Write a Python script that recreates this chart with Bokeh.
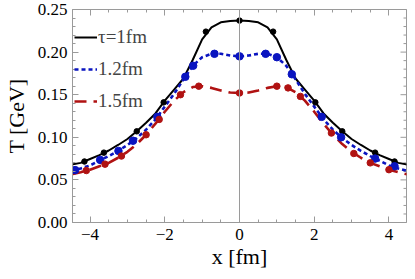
import math
from bokeh.plotting import figure
from bokeh.models import (Range1d, LinearAxis, FixedTicker, Span, Legend, LegendItem,
                          NumeralTickFormatter, CustomLabelingPolicy)
from bokeh.embed import file_html
from bokeh.resources import INLINE

# ---- data ----
x_grid = [-4.5, -4.25, -4.0, -3.75, -3.5, -3.25, -3.0, -2.75, -2.5, -2.25, -2.0, -1.75,
          -1.5, -1.25, -1.0, -0.75, -0.5, -0.25, 0.0, 0.25, 0.5, 0.75, 1.0, 1.25, 1.5,
          1.75, 2.0, 2.25, 2.5, 2.75, 3.0, 3.25, 3.5, 3.75, 4.0, 4.25, 4.5]

T_tau10 = [0.068, 0.070, 0.0745, 0.079, 0.0845, 0.091, 0.098, 0.107, 0.117, 0.128, 0.143,
           0.156, 0.169, 0.191, 0.215, 0.229, 0.235, 0.2365, 0.237, 0.2365, 0.235, 0.229,
           0.215, 0.191, 0.169, 0.156, 0.143, 0.128, 0.117, 0.107, 0.098, 0.091, 0.0845,
           0.079, 0.0745, 0.070, 0.068]

T_tau12 = [0.0605, 0.0635, 0.067, 0.0725, 0.078, 0.084, 0.091, 0.099, 0.109, 0.121, 0.136,
           0.151, 0.168, 0.184, 0.194, 0.198, 0.198, 0.196, 0.195, 0.196, 0.198, 0.198,
           0.194, 0.184, 0.168, 0.151, 0.136, 0.121, 0.109, 0.099, 0.091, 0.084, 0.078,
           0.0725, 0.067, 0.0635, 0.0605]

T_tau15 = [0.0565, 0.059, 0.062, 0.066, 0.070, 0.076, 0.083, 0.092, 0.103, 0.116, 0.130,
           0.143, 0.153, 0.159, 0.160, 0.158, 0.155, 0.1525, 0.152, 0.1525, 0.155, 0.158,
           0.160, 0.159, 0.153, 0.143, 0.130, 0.116, 0.103, 0.092, 0.083, 0.076, 0.070,
           0.066, 0.062, 0.059, 0.0565]

mk10_x = [-4.15, -3.63, -2.75, -2.03, -0.9, 0.0, 0.9, 2.03, 2.75, 3.63, 4.15]
mk10_T = [0.0716, 0.082, 0.107, 0.141, 0.224, 0.237, 0.224, 0.141, 0.107, 0.082, 0.0716]

mk12_x = [-4.4, -3.73, -3.24, -2.85, -2.2, -1.45, -1.24, -0.67, 0.0, 0.7, 1.0, 1.4, 2.2,
          2.72, 3.63, 4.15]
mk12_T = [0.0615, 0.0735, 0.084, 0.096, 0.124, 0.171, 0.184, 0.198, 0.195, 0.198, 0.194,
          0.174, 0.124, 0.100, 0.075, 0.066]

mk15_x = [-4.1, -3.6, -3.16, -2.5, -2.15, -1.58, -1.09, 0.0, 1.0, 1.3, 1.63, 2.46, 3.06,
          3.5, 4.0]
mk15_T = [0.061, 0.0685, 0.078, 0.103, 0.121, 0.150, 0.160, 0.152, 0.160, 0.158, 0.148,
          0.105, 0.081, 0.070, 0.062]

labels = ["τ=1fm", "1.2fm", "1.5fm"]

x_lo, x_hi = -4.47, 4.47
x_major = [-4, -2, 0, 2, 4]
x_minor = [-4.5, -3.5, -3.0, -2.5, -1.5, -1.0, -0.5, 0.5, 1.0, 1.5, 2.5, 3.0, 3.5, 4.5]
y_major = [0.0, 0.05, 0.10, 0.15, 0.20, 0.25]
y_minor = [0.01, 0.02, 0.03, 0.04, 0.06, 0.07, 0.08, 0.09, 0.11, 0.12, 0.13, 0.14,
           0.16, 0.17, 0.18, 0.19, 0.21, 0.22, 0.23, 0.24]

BLACK = "#000000"
BLUE = "#0a14c0"
RED = "#b01212"
FONT = "Liberation Serif"
GRAY = "#9a9a9a"

p = figure(width=407, height=271, output_backend="svg", toolbar_location=None,
           x_range=Range1d(x_lo, x_hi), y_range=Range1d(0.0, 0.25),
           min_border_left=62, min_border_right=1, min_border_top=9, min_border_bottom=48)
p.outline_line_color = GRAY
p.outline_line_width = 1
p.xgrid.visible = False
p.ygrid.visible = False
p.background_fill_color = "white"
p.border_fill_color = "white"

bottom_ax = p.below[0]
left_ax = p.left[0]

top_ax = LinearAxis()
p.add_layout(top_ax, "above")

xt = FixedTicker(ticks=x_major, minor_ticks=x_minor)
yt = FixedTicker(ticks=y_major, minor_ticks=y_minor)

bottom_ax.ticker = xt
top_ax.ticker = xt
left_ax.ticker = yt

for ax in (bottom_ax, left_ax, top_ax):
    ax.axis_line_color = GRAY
    ax.axis_line_width = 1
    ax.major_tick_line_color = GRAY
    ax.minor_tick_line_color = GRAY
    ax.major_tick_in = 6
    ax.major_tick_out = 0
    ax.minor_tick_in = 3
    ax.minor_tick_out = 0
    ax.major_label_text_font = FONT
    ax.major_label_text_color = "black"
    ax.major_label_text_line_height = 1.0
    ax.axis_label_text_font = FONT
    ax.axis_label_text_font_style = "normal"
    ax.axis_label_text_color = "black"
    ax.axis_label_text_line_height = 1.0

top_ax.major_label_policy = CustomLabelingPolicy(code="return new Set()")
top_ax.major_label_text_font_size = "0px"
top_ax.major_label_standoff = 0

# right-hand frame ticks (inward), at the y tick values
p.ray(x=[x_hi] * len(y_major), y=y_major, length=6, length_units="screen",
      angle=math.pi, line_color=GRAY, line_width=1)
p.ray(x=[x_hi] * len(y_minor), y=y_minor, length=3, length_units="screen",
      angle=math.pi, line_color=GRAY, line_width=1)

left_ax.formatter = NumeralTickFormatter(format="0.00")
bottom_ax.major_label_overrides = {-4: "−4", -2: "−2", 0: "0", 2: "2", 4: "4"}
bottom_ax.major_label_text_font_size = "17px"
left_ax.major_label_text_font_size = "17px"
bottom_ax.major_label_standoff = 6
left_ax.major_label_standoff = 5
bottom_ax.axis_label = "x [fm]"
left_ax.axis_label = "T [GeV]"
bottom_ax.axis_label_text_font_size = "22px"
left_ax.axis_label_text_font_size = "22px"
bottom_ax.axis_label_standoff = 1
left_ax.axis_label_standoff = 6

p.add_layout(Span(location=0, dimension="height", line_color=GRAY, line_width=1))

l1 = p.line(x_grid, T_tau10, line_color=BLACK, line_width=2)
l2 = p.line(x_grid, T_tau12, line_color=BLUE, line_width=2.6, line_dash="4 3")
l3 = p.line(x_grid, T_tau15, line_color=RED, line_width=2.6, line_dash="12 7")

p.scatter(mk10_x, mk10_T, size=5.5, color=BLACK)
p.scatter(mk12_x, mk12_T, size=7.5, color=BLUE)
p.scatter(mk15_x, mk15_T, size=6.5, color=RED)

legend = Legend(items=[LegendItem(label=labels[0], renderers=[l1]),
                       LegendItem(label=labels[1], renderers=[l2]),
                       LegendItem(label=labels[2], renderers=[l3])],
                location=(2, 110))
legend.padding = 0
legend.margin = 0
legend.spacing = 10
legend.glyph_width = 23
legend.glyph_height = 22
legend.label_height = 22
legend.label_standoff = 1
legend.label_text_font = FONT
legend.label_text_font_size = "19px"
legend.border_line_alpha = 0
legend.background_fill_alpha = 0
p.add_layout(legend, "center")

open("out.html", "w").write(file_html(p, INLINE))
